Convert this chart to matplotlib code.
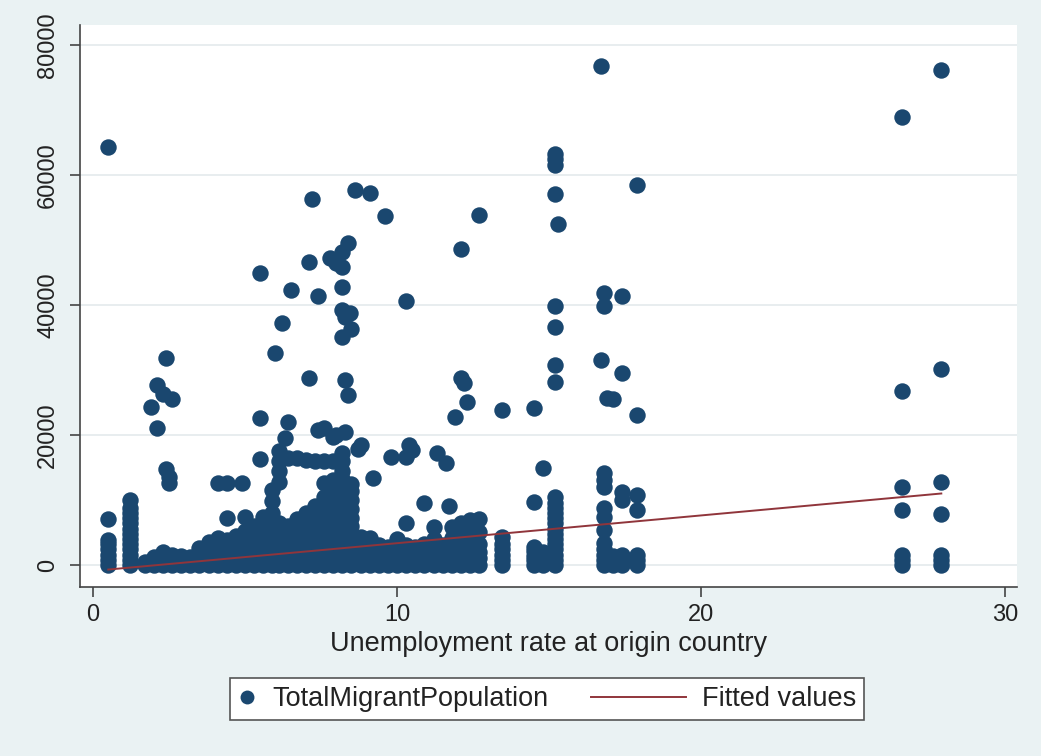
import numpy as np
import matplotlib
matplotlib.use("Agg")
import matplotlib.pyplot as plt
from matplotlib.lines import Line2D
from matplotlib.legend_handler import HandlerLine2D

# Dense band of country-years near the floor: one unemployment rate per column,
# with the migrant totals recorded at that rate
band_rates = [0.5, 1.2, 1.7, 2.0, 2.3, 2.6, 2.9, 3.2, 3.5, 3.8, 4.1, 4.4, 4.7, 5.0,
              5.3, 5.6, 5.9, 6.1, 6.4, 6.7, 7.0, 7.3, 7.6, 7.9, 8.2, 8.5, 8.8, 9.1,
              9.4, 9.7, 10.0, 10.3, 10.6, 10.9, 11.2, 11.5, 11.8, 12.1, 12.4, 12.7,
              13.45, 14.5, 14.8, 15.2, 16.8, 17.1, 17.4, 17.9, 26.6, 27.9]
band_pops = [
    [0, 800, 1600, 2400, 3200, 3900, 7000],
    [0, 800, 1600, 2400, 3200, 4000, 4800, 5600, 6400, 7200, 8000, 8800, 10000],
    [0, 400],
    [0, 700, 1300],
    [0, 900, 2000],
    [0, 700, 1500],
    [0, 800, 1400],
    [0, 600, 1300],
    [0, 900, 1800, 2600],
    [0, 1000, 2200, 3500],
    [0, 1100, 2300, 3600, 4200],
    [0, 1200, 2500, 3800, 7200],
    [0, 1000, 2200, 3300, 4500],
    [0, 1200, 2400, 3600, 5200, 7400],
    [0, 1000, 2100, 3200, 4600, 6000],
    [0, 1200, 2500, 3800, 5400, 7400],
    [0, 1100, 2300, 3500, 4800, 6200, 8000, 9800, 11500],
    [0, 1200, 2500, 3800, 5000, 6500, 12800, 14500, 16000, 17500],
    [0, 1000, 2200, 3400, 4700, 6000, 16500],
    [0, 1300, 2600, 3900, 5200, 7000, 16400],
    [0, 1200, 2400, 3600, 5000, 6400, 8000, 16200],
    [0, 1100, 2300, 3500, 4800, 6200, 7600, 9000, 16000],
    [0, 1200, 2500, 3800, 5200, 6600, 8200, 10500, 12600, 16000],
    [0, 1000, 2200, 3400, 4700, 6000, 7400, 8800, 10200, 11600, 13000, 16000],
    [0, 1200, 2400, 3600, 4800, 6000, 7200, 8400, 9600, 10800, 12000, 13200,
     14500, 16000, 17300],
    [0, 1100, 2300, 3500, 4700, 6000, 7300, 8600, 10000, 11400, 12500],
    [0, 1000, 2100, 3200, 4300],
    [0, 900, 1900, 3000, 4200],
    [0, 1000, 2000, 3000],
    [0, 800, 1800, 2800],
    [0, 900, 1900, 2900, 4000],
    [0, 1000, 2000, 3100, 6500],
    [0, 900, 1800, 2800],
    [0, 1000, 2100, 3200],
    [0, 900, 1900, 3000, 4000, 5800],
    [0, 1000, 2000, 3100],
    [0, 900, 1900, 3000, 4200, 5800],
    [0, 1100, 2300, 3500, 4800, 6500],
    [0, 1000, 2200, 3500, 5000, 6900],
    [0, 1000, 2000, 3200, 5000, 7000],
    [0, 800, 1600, 2400, 3300, 4300],
    [0, 700, 1400, 2100, 2800],
    [0, 1000, 2000],
    [0, 800, 1600, 2400, 3200, 4000, 4800, 5600, 6400, 7200, 8000, 8800, 9600, 10500],
    [0, 800, 1600, 2400, 3400, 5400, 7400, 8800, 12000, 13100, 14100],
    [0, 700, 1400],
    [0, 800, 1500, 10000, 11200],
    [0, 800, 1500, 8500, 10800],
    [0, 800, 1600, 8400, 12000],
    [0, 800, 1600, 7800, 12700],
]

# Scattered observations above the band
spread_rates = [0.5, 1.9, 2.1, 2.1, 2.3, 2.4, 2.6, 2.4, 2.5, 2.5,
                4.1, 4.4, 4.9, 5.5, 5.5, 5.5, 6.0, 6.2, 6.5, 6.4, 6.3,
                7.1, 7.2, 7.1, 7.4, 7.4, 7.6, 7.9, 8.0, 8.3,
                7.8, 8.0, 8.2, 8.2, 8.4, 8.2, 8.2, 8.45, 8.3, 8.5, 8.2,
                8.3, 8.4, 8.6, 9.1, 9.6, 8.8, 8.7, 9.2,
                9.8, 10.3, 10.5, 10.4, 11.3, 11.6, 10.3, 10.9, 11.7,
                11.9, 12.1, 12.2, 12.3, 12.1, 12.7,
                13.45, 14.5, 14.5, 14.8,
                15.2, 15.2, 15.2, 15.2, 15.3, 15.2, 15.2, 15.2, 15.2,
                16.7, 16.8, 16.8, 17.4, 16.7, 17.4, 16.9, 17.1, 17.9, 17.9,
                26.6, 27.9, 26.6, 27.9]
spread_pops = [64300, 24300, 27700, 21100, 26300, 31800, 25500, 14800, 13600, 12600,
               12600, 12600, 12600, 16300, 44900, 22600, 32600, 37200, 42300, 22000, 19500,
               28800, 56300, 46600, 41400, 20800, 21000, 19700, 20000, 20500,
               47200, 46500, 45800, 48200, 49500, 42800, 39200, 38800, 38200, 36300, 35100,
               28500, 26200, 57700, 57200, 53700, 18500, 17800, 13400,
               16600, 16600, 17700, 18500, 17200, 15700, 40600, 9500, 9000,
               22800, 28800, 28000, 25100, 48600, 53800,
               23800, 24200, 9700, 14900,
               63200, 62500, 61500, 57100, 52400, 39900, 36600, 30700, 28200,
               76800, 41900, 39900, 41400, 31600, 29500, 25700, 25500, 23100, 58500,
               68900, 76200, 26800, 30100]

# Linear fit of migrant population on unemployment rate
fit_rates = [0.5, 27.9]
fit_pops = [-700, 11000]

x_ticks = [0, 10, 20, 30]
y_ticks = [0, 20000, 40000, 60000, 80000]

NAVY = "#1a476f"
MAROON = "#90353b"
BG = "#eaf2f3"

plt.rcParams["font.family"] = ["Liberation Sans", "DejaVu Sans"]

rates = np.concatenate([np.repeat(band_rates, [len(p) for p in band_pops]), spread_rates])
pops = np.concatenate([np.concatenate(band_pops), spread_pops])

fig = plt.figure(figsize=(10.41, 7.56), dpi=100, facecolor=BG)
ax = fig.add_axes([80 / 1041, 169 / 756, 937 / 1041, 562 / 756])
ax.set_facecolor("white")

ax.scatter(rates, pops, s=140, color=NAVY, linewidths=0, zorder=3)
ax.plot(fit_rates, fit_pops, color=MAROON, lw=1.4, zorder=4)

ax.set_xlim(-0.43, 30.39)
ax.set_ylim(-3385, 83077)
ax.set_xticks(x_ticks)
ax.set_yticks(y_ticks)
ax.set_yticklabels([str(v) for v in y_ticks], rotation=90, va="center")
ax.tick_params(axis="both", labelsize=17, length=7, width=1.2, color="#444444",
               labelcolor="#222222", direction="out")
ax.tick_params(axis="y", pad=8)
ax.tick_params(axis="x", pad=5)

ax.grid(axis="y", color="#e6ecee", lw=1.3, zorder=0)
ax.set_axisbelow(True)
for side in ["top", "right"]:
    ax.spines[side].set_visible(False)
for side in ["left", "bottom"]:
    ax.spines[side].set_color("#444444")
    ax.spines[side].set_linewidth(1.2)

ax.set_xlabel("Unemployment rate at origin country", fontsize=19.5, color="#222222", labelpad=4)


class DotHandler(HandlerLine2D):
    # keep the marker at the left of its key box
    def get_xdata(self, legend, xdescent, ydescent, width, height, fontsize):
        return [-xdescent, -xdescent + width], [-xdescent + 0.5 * width]


class LongLineHandler(HandlerLine2D):
    # stretch the line key back into the column gap
    def get_xdata(self, legend, xdescent, ydescent, width, height, fontsize):
        x1 = -xdescent + width
        return [x1 - 3.5 * fontsize, x1], [x1]


dot_key = Line2D([], [], ls="none", marker="o", ms=10, color=NAVY, mew=0)
line_key = Line2D([], [], color=MAROON, lw=1.4)
leg = fig.legend([dot_key, line_key], ["TotalMigrantPopulation", "Fitted values"],
                 handler_map={dot_key: DotHandler(), line_key: LongLineHandler()},
                 loc="center", bbox_to_anchor=(547 / 1041, 1 - 699 / 756), ncol=2,
                 fontsize=19.5, handlelength=0.67, handletextpad=0.6, columnspacing=4.4,
                 borderpad=0.3, fancybox=False, framealpha=1, edgecolor="#555555")
leg.get_frame().set_linewidth(1.2)
for t in leg.get_texts():
    t.set_color("#222222")

fig.savefig("out.png", dpi=100, facecolor=BG)
